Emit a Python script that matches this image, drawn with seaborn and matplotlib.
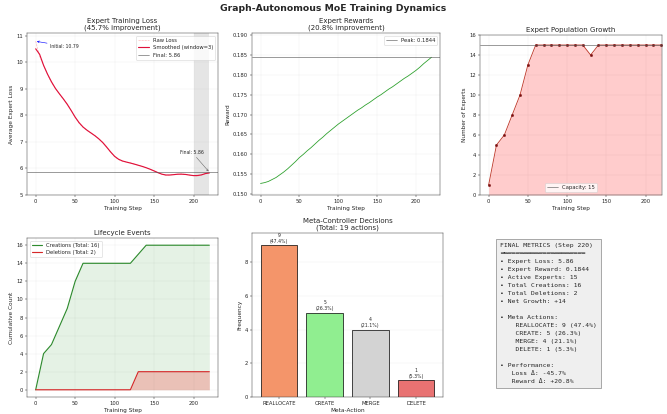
import numpy as np
import pandas as pd
import matplotlib
matplotlib.use("Agg")
import matplotlib.pyplot as plt
import seaborn as sns

# ---- training log ---------------------------------------------------------
loss_steps = list(range(0, 225, 5))
raw_loss = [10.79, 10.22, 9.88, 9.55, 9.22, 9.02, 8.80, 8.62, 8.44, 8.18,
            7.92, 7.70, 7.55, 7.43, 7.34, 7.24, 7.12, 6.98, 6.82, 6.60,
            6.44, 6.33, 6.27, 6.24, 6.21, 6.16, 6.12, 6.08, 6.03, 5.97,
            5.91, 5.84, 5.77, 5.74, 5.75, 5.77, 5.78, 5.80, 5.77, 5.75,
            5.73, 5.71, 5.76, 5.80, 5.86]

reward_steps = list(range(0, 225, 5))
expert_reward = [0.1527, 0.1529, 0.1532, 0.1537, 0.1542, 0.1549, 0.1556, 0.1564,
                 0.1573, 0.1582, 0.1592, 0.1600, 0.1609, 0.1617, 0.1626, 0.1635,
                 0.1643, 0.1652, 0.1660, 0.1668, 0.1676, 0.1683, 0.1690, 0.1697,
                 0.1704, 0.1711, 0.1717, 0.1724, 0.1730, 0.1737, 0.1744, 0.1750,
                 0.1757, 0.1764, 0.1770, 0.1777, 0.1784, 0.1791, 0.1797, 0.1804,
                 0.1811, 0.1819, 0.1828, 0.1836, 0.1844]

event_steps = list(range(0, 230, 10))
population = [1, 5, 6, 8, 10, 13, 15, 15, 15, 15, 15, 15, 15, 14, 15,
              15, 15, 15, 15, 15, 15, 15, 15]
cum_creations = [0, 4, 5, 7, 9, 12, 14, 14, 14, 14, 14, 14, 14, 15, 16,
                 16, 16, 16, 16, 16, 16, 16, 16]
cum_deletions = [0, 0, 0, 0, 0, 0, 0, 0, 0, 0, 0, 0, 0, 2, 2,
                 2, 2, 2, 2, 2, 2, 2, 2]

action_types = ["REALLOCATE", "CREATE", "MERGE", "DELETE"]
action_counts = [9, 5, 4, 1]
action_colors = ["#F4956A", "#90EE90", "#D3D3D3", "#E87272"]

capacity = 15
final_step = 220

# ---- style ----------------------------------------------------------------
sns.set_style("ticks")
plt.rcParams.update({
    "font.family": ["DejaVu Sans"],
    "axes.titlesize": 12,
    "axes.labelsize": 10,
    "xtick.labelsize": 9,
    "ytick.labelsize": 9,
    "legend.fontsize": 9,
    "axes.edgecolor": "#333333",
})

W, H = 667, 414
fig = plt.figure(figsize=(16, 16 * H / W), dpi=W / 16)


def box(x0, y0, x1, y1):
    return [x0 / W, 1 - y1 / H, (x1 - x0) / W, (y1 - y0) / H]


ax1 = fig.add_axes(box(27, 33, 218, 195))
ax2 = fig.add_axes(box(252, 33, 440, 195))
ax3 = fig.add_axes(box(480, 35, 662, 195))
ax4 = fig.add_axes(box(27, 238, 218, 397))
ax5 = fig.add_axes(box(252, 233, 443, 397))
ax6 = fig.add_axes(box(480, 233, 662, 397))

fig.suptitle("Graph-Autonomous MoE Training Dynamics", fontsize=16,
             fontweight="bold", y=0.99)

# ---- 1. expert loss -------------------------------------------------------
loss_df = pd.DataFrame({"step": loss_steps, "raw": raw_loss})
loss_df["smooth"] = loss_df["raw"].rolling(3, center=True, min_periods=1).mean()
loss_first, loss_last = raw_loss[0], raw_loss[-1]
loss_impr = (loss_first - loss_last) / loss_first * 100

ax1.axvspan(200, 220, color="gray", alpha=0.2, lw=0)
sns.lineplot(data=loss_df, x="step", y="raw", ax=ax1, color="#FF8A8A",
             lw=1, alpha=0.7, linestyle="--", label="Raw Loss")
sns.lineplot(data=loss_df, x="step", y="smooth", ax=ax1, color="#E0103A",
             lw=2, label="Smoothed (window=3)")
ax1.axhline(loss_last, color="#555555", lw=1, label=f"Final: {loss_last:.2f}")
ax1.annotate(f"Initial: {loss_first:.2f}", xy=(0, loss_first),
             xytext=(18, 10.55), fontsize=8,
             arrowprops=dict(arrowstyle="->", color="blue", lw=1))
ax1.annotate(f"Final: {loss_last:.2f}", xy=(final_step, loss_last),
             xytext=(183, 6.55), fontsize=8,
             arrowprops=dict(arrowstyle="->", color="#555555", lw=0.8))
ax1.set_ylim(5, 11.1)
ax1.set_title(f"Expert Training Loss\n({loss_impr:.1f}% improvement)")
ax1.set_xlabel("Training Step")
ax1.set_ylabel("Average Expert Loss")
ax1.grid(True, alpha=0.3)
ax1.legend(loc="upper right", frameon=True)

# ---- 2. expert reward -----------------------------------------------------
rew_df = pd.DataFrame({"step": reward_steps, "reward": expert_reward})
rew_first, rew_last = expert_reward[0], expert_reward[-1]
rew_peak = max(expert_reward)
rew_impr = (rew_last - rew_first) / rew_first * 100
sns.lineplot(data=rew_df, x="step", y="reward", ax=ax2, color="#2CA02C", lw=1.4)
ax2.axhline(rew_peak, color="#555555", lw=1, label=f"Peak: {rew_peak:.4f}")
ax2.set_ylim(0.1498, 0.1905)
ax2.set_yticks(np.arange(0.150, 0.1901, 0.005))
ax2.set_title(f"Expert Rewards\n({rew_impr:.1f}% improvement)")
ax2.set_xlabel("Training Step")
ax2.set_ylabel("Reward")
ax2.grid(True, alpha=0.3)
ax2.legend(loc="upper right")

# ---- 3. population --------------------------------------------------------
pop_df = pd.DataFrame({"step": event_steps, "experts": population})
ax3.fill_between(event_steps, population, color="red", alpha=0.2, lw=0)
sns.lineplot(data=pop_df, x="step", y="experts", ax=ax3, color="#C0392B",
             lw=1.5, marker="o", markersize=4, markerfacecolor="#7B1010",
             markeredgecolor="#7B1010")
ax3.axhline(capacity, color="#555555", lw=1, label=f"Capacity: {capacity}")
ax3.set_ylim(0, 16)
ax3.set_xlim(-11, 221)
ax3.set_yticks(range(0, 17, 2))
ax3.set_title("Expert Population Growth")
ax3.set_xlabel("Training Step")
ax3.set_ylabel("Number of Experts")
ax3.grid(True, alpha=0.3)
ax3.legend(loc="lower center")

# ---- 4. lifecycle events --------------------------------------------------
life_df = pd.DataFrame({"step": event_steps, "created": cum_creations,
                        "deleted": cum_deletions})
ax4.fill_between(event_steps, cum_creations, color="green", alpha=0.1, lw=0)
ax4.fill_between(event_steps, cum_deletions, color="red", alpha=0.2, lw=0)
sns.lineplot(data=life_df, x="step", y="created", ax=ax4, color="#2E8B2E",
             lw=2, label=f"Creations (Total: {cum_creations[-1]})")
sns.lineplot(data=life_df, x="step", y="deleted", ax=ax4, color="#D62728",
             lw=2, label=f"Deletions (Total: {cum_deletions[-1]})")
ax4.set_yticks(range(0, 17, 2))
ax4.set_title("Lifecycle Events")
ax4.set_xlabel("Training Step")
ax4.set_ylabel("Cumulative Count")
ax4.grid(True, alpha=0.3)
ax4.legend(loc="upper left")

# ---- 5. meta-controller decisions -----------------------------------------
total_actions = sum(action_counts)
act_df = pd.DataFrame({"action": action_types, "count": action_counts})
sns.barplot(data=act_df, x="action", y="count", hue="action",
            palette=action_colors, ax=ax5, legend=False, width=0.8,
            edgecolor="black", linewidth=1.2, saturation=1)
for i, c in enumerate(action_counts):
    ax5.text(i, c + 0.08, f"{c}\n({c / total_actions * 100:.1f}%)",
             ha="center", va="bottom", fontsize=8)
ax5.set_xlim(-0.59, 3.59)
ax5.set_ylim(0, max(action_counts) * 1.08)
ax5.set_title(f"Meta-Controller Decisions\n(Total: {total_actions} actions)")
ax5.set_xlabel("Meta-Action")
ax5.set_ylabel("Frequency")
ax5.grid(True, axis="y", alpha=0.3)

# ---- 6. summary -----------------------------------------------------------
ax6.axis("off")
pct = [c / total_actions * 100 for c in action_counts]
summary = (
    f"FINAL METRICS (Step {final_step})\n"
    "══════════════════════\n"
    f"• Expert Loss: {loss_last:.2f}\n"
    f"• Expert Reward: {rew_last:.4f}\n"
    f"• Active Experts: {population[-1]}\n"
    f"• Total Creations: {cum_creations[-1]}\n"
    f"• Total Deletions: {cum_deletions[-1]}\n"
    f"• Net Growth: +{population[-1] - population[0]}\n"
    "\n"
    "• Meta Actions:\n"
    + "".join(f"    {a}: {c} ({p:.1f}%)\n"
              for a, c, p in zip(action_types, action_counts, pct))
    + "\n"
    "• Performance:\n"
    f"   Loss Δ: -{loss_impr:.1f}%\n"
    f"   Reward Δ: +{rew_impr:.1f}%"
)
ax6.text(0.11, 0.94, summary, transform=ax6.transAxes, va="top", ha="left",
         family="DejaVu Sans Mono", fontsize=11, linespacing=1.75,
         bbox=dict(boxstyle="square,pad=0.6", facecolor="#EFEFEF",
                   edgecolor="#888888", lw=1.2))

fig.savefig("out.png", dpi=W / 16)
